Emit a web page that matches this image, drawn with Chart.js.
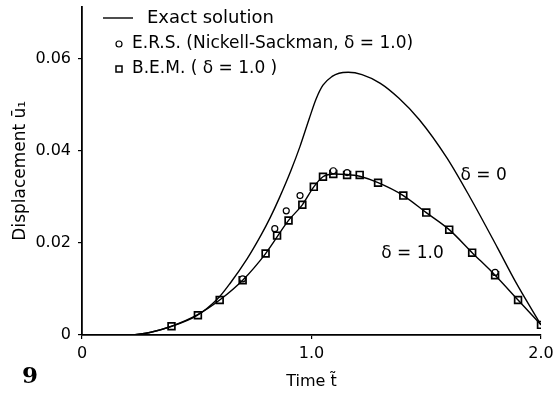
<!DOCTYPE html>
<html><head><meta charset="utf-8">
<script src="https://cdn.jsdelivr.net/npm/chart.js@4/dist/chart.umd.min.js"></script>
<style>html,body{margin:0;padding:0;background:#fff}canvas{display:block}</style>
</head><body>
<canvas id="c" width="553" height="395"></canvas>
<script>
// Exact solution, delta = 0
const exactT0 = [0.22, 0.30, 0.38, 0.50, 0.59, 0.645, 0.72, 0.78, 0.82, 0.86, 0.91, 0.95, 0.99, 1.02, 1.05, 1.09, 1.12, 1.16, 1.22, 1.30, 1.38, 1.47, 1.59, 1.69, 1.81, 1.89, 2.0];
const exactU0 = [0, 0.0006, 0.0017, 0.0042, 0.0078, 0.0112, 0.0166, 0.0217, 0.0255, 0.0298, 0.0357, 0.0410, 0.0470, 0.0513, 0.0543, 0.0562, 0.0569, 0.0571, 0.0566, 0.0547, 0.0515, 0.0468, 0.0385, 0.0300, 0.0190, 0.0115, 0.0022];
// Exact solution, delta = 1.0
const exactT1 = [0.22, 0.30, 0.39, 0.50, 0.60, 0.70, 0.80, 0.90, 0.96, 1.01, 1.05, 1.10, 1.155, 1.21, 1.29, 1.40, 1.50, 1.60, 1.70, 1.80, 1.90, 2.0];
const exactU1 = [0, 0.0006, 0.0019, 0.0043, 0.0076, 0.0119, 0.0177, 0.0249, 0.0283, 0.0322, 0.0344, 0.0350, 0.0349, 0.0345, 0.0331, 0.0303, 0.0266, 0.0229, 0.0179, 0.0130, 0.0076, 0.0022];
// B.E.M. (delta = 1.0)
const bemT = [0.39, 0.505, 0.60, 0.70, 0.80, 0.85, 0.90, 0.96, 1.01, 1.05, 1.095, 1.155, 1.21, 1.29, 1.40, 1.50, 1.60, 1.70, 1.80, 1.90, 2.0];
const bemU = [0.0019, 0.0043, 0.0076, 0.0119, 0.0177, 0.0216, 0.0249, 0.0283, 0.0322, 0.0344, 0.0350, 0.0348, 0.0348, 0.0331, 0.0303, 0.0266, 0.0229, 0.0179, 0.0130, 0.0076, 0.0022];
// E.R.S. (Nickell-Sackman, delta = 1.0)
const ersT = [0.70, 0.84, 0.89, 0.95, 1.095, 1.155, 1.80];
const ersU = [0.0122, 0.0231, 0.0270, 0.0303, 0.0357, 0.0353, 0.0136];

const xTicks = [0, 1, 2];
const xTickLabels = ['0', '1.0', '2.0'];
const yTicks = [0, 0.02, 0.04, 0.06];
const yTickLabels = ['0', '0.02', '0.04', '0.06'];
const legendLabels = ['Exact solution', 'E.R.S. (Nickell-Sackman, δ = 1.0)', 'B.E.M. ( δ = 1.0 )'];
const curveLabels = ['δ = 0', 'δ = 1.0'];
const curveLabelT = [1.75, 1.44];
const curveLabelU = [0.0346, 0.0176];
const xTitle = 'Time t̃';
const yTitle = 'Displacement ū₁';
const figNo = '9';

const FONT = '"DejaVu Sans", sans-serif';
const pts = (t, u) => t.map((x, i) => ({x: x, y: u[i]}));

const overlay = {
  id: 'overlay',
  afterDraw(chart) {
    const c = chart.ctx, a = chart.chartArea;
    const xs = chart.scales.x, ys = chart.scales.y;
    c.save();
    c.fillStyle = '#000'; c.strokeStyle = '#000';
    c.textBaseline = 'middle'; c.textAlign = 'left';
    const L = a.left;
    // legend
    c.lineWidth = 1.4;
    c.beginPath(); c.moveTo(L + 21, 18); c.lineTo(L + 51, 18); c.stroke();
    c.font = '18px ' + FONT;
    c.fillText(legendLabels[0], L + 65, 18);
    c.font = '17px ' + FONT;
    c.lineWidth = 1.2;
    c.beginPath(); c.arc(L + 37, 44, 3, 0, Math.PI * 2); c.fillStyle = '#fff'; c.fill(); c.stroke();
    c.fillStyle = '#000';
    c.fillText(legendLabels[1], L + 50, 44);
    c.lineWidth = 1.5;
    c.fillStyle = '#fff'; c.fillRect(L + 34, 66, 6, 6); c.strokeRect(L + 34, 66, 6, 6);
    c.fillStyle = '#000';
    c.fillText(legendLabels[2], L + 50, 69);
    // curve labels
    c.textAlign = 'center';
    for (let i = 0; i < curveLabels.length; i++) {
      c.fillText(curveLabels[i], xs.getPixelForValue(curveLabelT[i]), ys.getPixelForValue(curveLabelU[i]));
    }
    // figure number
    c.font = 'bold 23px "DejaVu Serif", serif';
    c.textAlign = 'left';
    c.fillText(figNo, 22, 377);
    c.restore();
  }
};

new Chart(document.getElementById('c').getContext('2d'), {
  type: 'line',
  data: {
    datasets: [
      {label: 'Exact solution', data: pts(exactT0, exactU0), borderColor: '#000', borderWidth: 1.4, pointRadius: 0, fill: false, cubicInterpolationMode: 'monotone'},
      {label: 'Exact solution (δ = 1.0)', data: pts(exactT1, exactU1), borderColor: '#000', borderWidth: 1.4, pointRadius: 0, fill: false, cubicInterpolationMode: 'monotone'},
      {label: 'E.R.S.', data: pts(ersT, ersU), showLine: false, pointStyle: 'circle', pointRadius: 3, borderColor: '#000', backgroundColor: '#fff', pointBackgroundColor: '#fff', borderWidth: 1.2},
      {label: 'B.E.M.', data: pts(bemT, bemU), showLine: false, pointStyle: 'rect', pointRadius: 4.8, borderColor: '#000', backgroundColor: '#fff', pointBackgroundColor: '#fff', borderWidth: 1.7}
    ]
  },
  options: {
    responsive: false, animation: false, devicePixelRatio: 1,
    layout: {padding: {left: 0, top: 5, right: 12, bottom: 0}},
    plugins: {legend: {display: false}, tooltip: {enabled: false}},
    scales: {
      x: {
        type: 'linear', min: 0, max: 2,
        afterBuildTicks: s => { s.ticks = xTicks.map(v => ({value: v})); },
        ticks: {callback: v => xTickLabels[xTicks.indexOf(v)], font: {family: FONT, size: 16}, color: '#000', padding: 5, maxRotation: 0, autoSkip: false},
        grid: {drawOnChartArea: false, drawTicks: true, tickLength: 4, color: '#000', lineWidth: 1.2},
        border: {color: '#000', width: 1.8},
        title: {display: true, text: xTitle, font: {family: FONT, size: 16}, color: '#000', padding: {top: 0, bottom: 4}},
        afterFit: s => { s.height = 60; s.paddingLeft = 0; s.paddingRight = 0; }
      },
      y: {
        type: 'linear', min: 0, max: 0.0714,
        afterBuildTicks: s => { s.ticks = yTicks.map(v => ({value: v})); },
        ticks: {callback: v => yTickLabels[yTicks.indexOf(v)], font: {family: FONT, size: 16}, color: '#000', padding: 7},
        grid: {drawOnChartArea: false, drawTicks: true, tickLength: 4, color: '#000', lineWidth: 1.2},
        border: {color: '#000', width: 1.8},
        title: {display: true, text: yTitle, font: {family: FONT, size: 17}, color: '#000', padding: {top: 10, bottom: 0}},
        afterFit: s => { s.width = 82; s.paddingTop = 0; s.paddingBottom = 0; }
      }
    }
  },
  plugins: [overlay]
});
</script>
</body></html>
